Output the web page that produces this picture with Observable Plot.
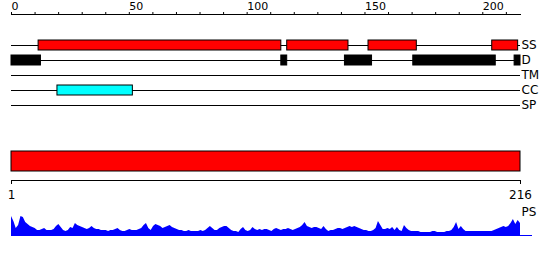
<!DOCTYPE html>
<html><head><meta charset="utf-8">
<script src="https://cdn.jsdelivr.net/npm/d3@7"></script>
<script src="https://cdn.jsdelivr.net/npm/@observablehq/plot@0.6"></script>
<style>
body{margin:0;background:#fff}
#chart{width:550px;height:260px;overflow:hidden;background:#fff}
#chart svg{display:block}
</style></head><body><div id="chart"></div>
<script>
// ---- data ----
const seqStart = 1;
const seqLength = 216;
const tracks = ["SS", "D", "TM", "CC", "SP"];
const topTicks = [0, 10, 20, 30, 40, 50, 60, 70, 80, 90, 100, 110, 120, 130, 140, 150, 160, 170, 180, 190, 200, 210];
const topTickLabels = [0, 50, 100, 150, 200];
const bottomTicks = [1, 216];
const ssSegments = [[11.5, 114.5], [117, 143], [151.5, 172], [204, 215]];
const dSegments = [[0, 12.5], [114.5, 117], [141.5, 153], [170.5, 205.5], [213.5, 216]];
const tmSegments = [];
const ccSegments = [[19.5, 51.5]];
const spSegments = [];
const ps = [
  19, 14, 7, 10, 19, 18, 13, 11, 9, 8,
  7, 5, 5, 6, 7, 5, 5, 5, 6, 9,
  11, 8, 5, 4, 5, 8, 7, 12, 10, 9,
  8, 7, 6, 7, 9, 7, 6, 6, 5, 5,
  5, 4, 5, 5, 6, 7, 5, 4, 4, 5,
  6, 5, 5, 5, 6, 7, 10, 12, 7, 5,
  9, 11, 10, 9, 7, 8, 9, 10, 8, 7,
  6, 5, 5, 4, 4, 5, 4, 4, 4, 4,
  5, 4, 5, 7, 9, 7, 5, 5, 7, 8,
  9, 9, 7, 5, 4, 4, 3, 6, 8, 5,
  4, 5, 8, 6, 5, 6, 5, 6, 6, 5,
  4, 6, 7, 6, 5, 6, 6, 7, 6, 5,
  6, 7, 8, 10, 13, 9, 8, 7, 8, 8,
  7, 6, 9, 6, 4, 5, 5, 6, 7, 7,
  6, 7, 8, 9, 8, 9, 8, 7, 6, 5,
  5, 4, 4, 5, 7, 14, 10, 6, 6, 7,
  6, 8, 5, 8, 5, 4, 10, 7, 5, 4,
  4, 4, 4, 3, 3, 3, 3, 3, 4, 4,
  3, 3, 3, 3, 4, 4, 5, 8, 13, 6,
  9, 6, 4, 4, 4, 4, 4, 4, 4, 4,
  4, 4, 4, 4, 5, 6, 7, 8, 9, 8,
  9, 12, 16, 11, 15, 12
];

// ---- build tables ----
const features = [
  ...ssSegments.map(([start, end]) => ({track: "SS", start, end})),
  ...dSegments.map(([start, end]) => ({track: "D", start, end})),
  ...tmSegments.map(([start, end]) => ({track: "TM", start, end})),
  ...ccSegments.map(([start, end]) => ({track: "CC", start, end})),
  ...spSegments.map(([start, end]) => ({track: "SP", start, end}))
];
const psData = ps.map((v, i) => ({pos: seqStart + i, value: v}));
const sequence = [{start: seqStart, end: seqLength, name: "seq"}];

const font = {fontFamily: "DejaVu Sans, sans-serif", background: "white", color: "black", overflow: "visible"};

const topPlot = Plot.plot({
  width: 550, height: 115,
  marginLeft: 11, marginRight: 30, marginTop: 14, marginBottom: 0,
  style: {...font, fontSize: "11px"},
  x: {domain: [0, seqLength], axis: null},
  y: {domain: tracks, range: [37.5, 112.5], paddingInner: 1 / 3, paddingOuter: 1 / 6, axis: null},
  color: {domain: ["SS", "D", "TM", "CC", "SP"], range: ["#ff0000", "#000000", "#ff00ff", "#00ffff", "#00ff00"]},
  marks: [
    Plot.frame({anchor: "top", stroke: "black"}),
    Plot.axisX({anchor: "top", ticks: topTicks, tickSize: 3, tickPadding: 2, label: null,
      tickFormat: d => topTickLabels.includes(d) ? String(d) : "", textAnchor: "start", fontSize: 11}),
    Plot.ruleY(tracks, {y: d => d, stroke: "black"}),
    Plot.barX(features, {x1: "start", x2: "end", y: "track", fill: "track", stroke: "black", strokeWidth: 1}),
    Plot.text(tracks, {y: d => d, text: d => d, frameAnchor: "right", textAnchor: "start", dx: 1, fontSize: 12, letterSpacing: "-1px"})
  ]
});

const seqPlot = Plot.plot({
  width: 550, height: 90,
  marginLeft: 11, marginRight: 30, marginTop: 35, marginBottom: 25,
  style: {...font, fontSize: "12px"},
  x: {domain: [seqStart, seqLength], axis: null},
  y: {domain: ["seq"], range: [35.5, 55.5], padding: 0, axis: null},
  marks: [
    Plot.barX(sequence, {x1: "start", x2: "end", y: "name", fill: "#ff0000", stroke: "black"}),
    Plot.frame({anchor: "bottom", stroke: "black"}),
    Plot.axisX({anchor: "bottom", ticks: bottomTicks, tickSize: 4, tickPadding: 6, label: null, fontSize: 12})
  ]
});

const psPlot = Plot.plot({
  width: 550, height: 55,
  marginLeft: 11, marginRight: 30, marginTop: 9, marginBottom: 25,
  style: {...font, fontSize: "12px"},
  x: {domain: [seqStart, seqLength], axis: null},
  y: {domain: [0, 21], axis: null},
  marks: [
    Plot.areaY(psData, {x: "pos", y: "value", fill: "#0000ff"}),
    Plot.ruleY([0], {stroke: "#0000ff", insetRight: -12}),
    Plot.text(["PS"], {text: d => d, frameAnchor: "top-right", textAnchor: "start", lineAnchor: "bottom", dx: 1, dy: 1, fontSize: 12, letterSpacing: "-1px"})
  ]
});

const chart = document.getElementById("chart");
chart.append(topPlot, seqPlot, psPlot);
</script>
</body></html>
